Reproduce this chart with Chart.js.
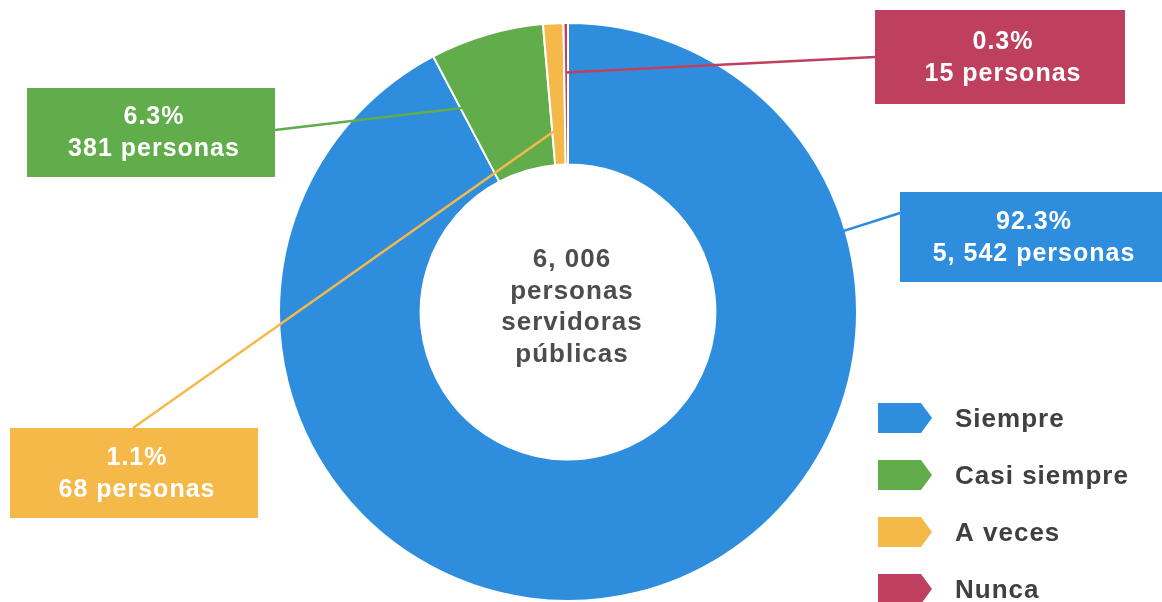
<!DOCTYPE html>
<html>
<head>
<meta charset="utf-8">
<script src="https://cdn.jsdelivr.net/npm/chart.js@4/dist/chart.umd.min.js"></script>
<style>
  html, body { margin: 0; padding: 0; background: #ffffff; }
  #wrap { width: 1162px; height: 602px; position: relative; }
</style>
</head>
<body>
<div id="wrap"><canvas id="c" width="1162" height="602"></canvas></div>
<script>
// ---- Data ----
const categories = ['Siempre', 'Casi siempre', 'A veces', 'Nunca'];
const counts = [5542, 381, 68, 15];
const percents = [92.3, 6.3, 1.1, 0.3];
const centerCaption = ['personas', 'servidoras', 'públicas'];

// ---- Styles ----
const sliceColors = ['#2E8EDD', '#62AD4B', '#F5B94A', '#BF3F5E'];
const FONT = '"Liberation Sans", Arial, sans-serif';

function fmtCount(n) {
  const s = String(n);
  if (n >= 1000) return s.slice(0, s.length - 3) + ', ' + s.slice(s.length - 3);
  return s;
}
const total = counts.reduce((a, b) => a + b, 0);

// Annotation layout (box geometry and where the leader line meets each box)
const boxes = [
  { x: 900, y: 192, w: 262, h: 90, ex: 900, ey: 213, angleDeg: 74, rFrac: 0.5 },   // Siempre
  { x: 27,  y: 88,  w: 248, h: 89, ex: 275, ey: 130, angleDeg: null, rFrac: 0.5 }, // Casi siempre
  { x: 10,  y: 428, w: 248, h: 90, ex: 133, ey: 428, angleDeg: null, rFrac: 0.26 },// A veces
  { x: 875, y: 10,  w: 250, h: 94, ex: 875, ey: 57,  angleDeg: null, rFrac: 0.65 } // Nunca
];
const legendPos = { x: 878, y0: 418, dy: 57, w: 54, h: 30, textX: 955 };

const annotations = {
  id: 'annotations',
  afterDatasetsDraw(chart) {
    const ctx = chart.ctx;
    const meta = chart.getDatasetMeta(0);
    ctx.save();

    // leader lines
    meta.data.forEach((arc, i) => {
      const p = arc.getProps(['x', 'y', 'startAngle', 'endAngle', 'innerRadius', 'outerRadius'], true);
      const b = boxes[i];
      const a = b.angleDeg !== null ? (b.angleDeg - 90) * Math.PI / 180 : (p.startAngle + p.endAngle) / 2;
      const r = p.innerRadius + b.rFrac * (p.outerRadius - p.innerRadius);
      const ax = p.x + r * Math.cos(a);
      const ay = p.y + r * Math.sin(a);
      ctx.strokeStyle = sliceColors[i];
      ctx.lineWidth = 2.5;
      ctx.beginPath();
      ctx.moveTo(ax, ay);
      ctx.lineTo(b.ex, b.ey);
      ctx.stroke();
    });

    // label boxes
    ctx.textAlign = 'center';
    ctx.textBaseline = 'middle';
    try { ctx.letterSpacing = '1px'; } catch (e) {}
    boxes.forEach((b, i) => {
      ctx.fillStyle = sliceColors[i];
      ctx.fillRect(b.x, b.y, b.w, b.h);
      ctx.fillStyle = '#ffffff';
      ctx.font = 'bold 25px ' + FONT;
      const cx = b.x + b.w / 2 + 3;
      const cy = b.y + b.h / 2;
      ctx.fillText(percents[i].toFixed(1) + '%', cx, cy - 15);
      ctx.fillText(fmtCount(counts[i]) + ' personas', cx, cy + 17);
    });

    // center text
    const p0 = meta.data[0].getProps(['x', 'y'], true);
    ctx.fillStyle = '#4d4d4d';
    ctx.font = 'bold 26px ' + FONT;
    const lines = [fmtCount(total)].concat(centerCaption);
    lines.forEach((t, k) => {
      ctx.fillText(t, p0.x + 4, p0.y - 52 + k * 31.5);
    });

    // legend
    ctx.textAlign = 'left';
    ctx.font = 'bold 26px ' + FONT;
    categories.forEach((c, i) => {
      const cy = legendPos.y0 + i * legendPos.dy;
      const x = legendPos.x, w = legendPos.w, h = legendPos.h;
      ctx.fillStyle = sliceColors[i];
      ctx.beginPath();
      ctx.moveTo(x, cy - h / 2);
      ctx.lineTo(x + w - 11, cy - h / 2);
      ctx.lineTo(x + w, cy);
      ctx.lineTo(x + w - 11, cy + h / 2);
      ctx.lineTo(x, cy + h / 2);
      ctx.closePath();
      ctx.fill();
      ctx.fillStyle = '#404040';
      ctx.fillText(c, legendPos.textX, cy + 2);
    });
    ctx.restore();
  }
};

new Chart(document.getElementById('c'), {
  type: 'doughnut',
  data: {
    labels: categories,
    datasets: [{
      data: counts,
      backgroundColor: sliceColors,
      borderColor: '#ffffff',
      borderWidth: 2,
      hoverOffset: 0
    }]
  },
  options: {
    responsive: false,
    devicePixelRatio: 1,
    animation: false,
    cutout: '51%',
    layout: { padding: { left: 0, right: 26, top: 22, bottom: 0 } },
    plugins: {
      legend: { display: false },
      tooltip: { enabled: false }
    }
  },
  plugins: [annotations]
});
</script>
</body>
</html>
